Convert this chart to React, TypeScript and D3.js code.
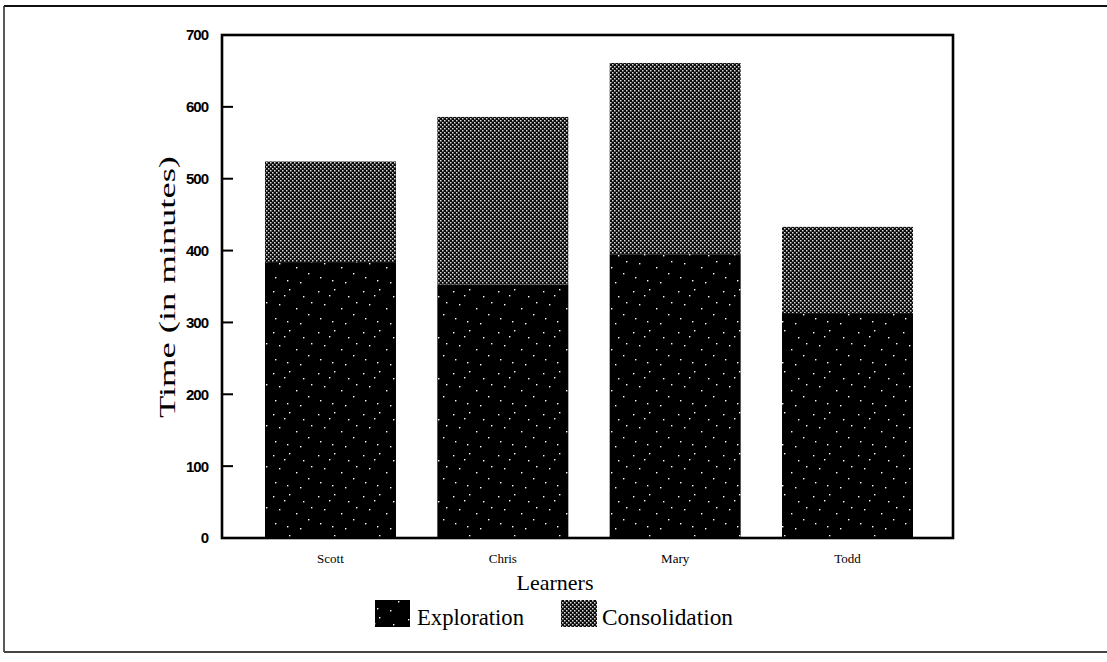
import React from "react";
import * as d3 from "d3";

const learners = ["Scott", "Chris", "Mary", "Todd"];
const exploration = [384, 353, 395, 313];
const consolidation = [140, 233, 266, 120];
const yTicks = [0, 100, 200, 300, 400, 500, 600, 700];
const seriesNames = ["Exploration", "Consolidation"];

const W = 1107;
const H = 662;
const frame = { left: 222, right: 953, top: 35, bottom: 538 };

export default function App() {
  const y = d3.scaleLinear().domain([0, 700]).range([frame.bottom, frame.top]);
  const x = d3
    .scaleBand<string>()
    .domain(learners)
    .range([265, 913])
    .paddingInner(0.24)
    .paddingOuter(0);

  const rows = learners.map((name, i) => ({
    name,
    Exploration: exploration[i],
    Consolidation: consolidation[i],
  }));
  const stack = d3.stack<any>().keys(seriesNames)(rows);
  const fills = ["url(#explor)", "url(#consol)"];

  // speckle positions within a pattern tile (texture only)
  const speckles = [
    [3, 4], [19, 2], [33, 9], [9, 17], [26, 21], [38, 27], [5, 31], [17, 34], [30, 36], [14, 8], [41, 15],
  ];

  const serif = "'Liberation Serif', 'Times New Roman', serif";
  const sans = "'Liberation Sans', Arial, sans-serif";

  return (
    <div style={{ position: "fixed", left: 0, top: 0 }}>
      <svg width={W} height={H} style={{ display: "block", background: "#fff" }}>
        <defs>
          <pattern id="explor" width={45} height={41} patternUnits="userSpaceOnUse">
            <rect width={45} height={41} fill="#000" />
            {speckles.map(([px, py], i) => (
              <rect key={i} x={px} y={py} width={1.4} height={1.4} fill="#fff" />
            ))}
          </pattern>
          <pattern id="consol" width={4} height={4} patternUnits="userSpaceOnUse">
            <rect width={4} height={4} fill="#0a0a0a" />
            <rect x={0} y={0} width={1.5} height={1.5} fill="#dcdcdc" />
            <rect x={2} y={2} width={1.5} height={1.5} fill="#dcdcdc" />
          </pattern>
        </defs>

        {/* outer border */}
        <line x1={4} y1={6} x2={W} y2={6} stroke="#111" strokeWidth={2.2} />
        <line x1={4} y1={6} x2={4} y2={652} stroke="#222" strokeWidth={1.5} />
        <line x1={4} y1={652} x2={W} y2={652} stroke="#444" strokeWidth={1.8} />

        {/* bars */}
        {stack.map((layer, si) =>
          layer.map((d, i) => (
            <rect
              key={`${si}-${i}`}
              x={x(learners[i])}
              y={y(d[1])}
              width={x.bandwidth()}
              height={y(d[0]) - y(d[1])}
              fill={fills[si]}
            />
          ))
        )}

        {/* frame */}
        <rect
          x={frame.left}
          y={frame.top}
          width={frame.right - frame.left}
          height={frame.bottom - frame.top}
          fill="none"
          stroke="#000"
          strokeWidth={2.6}
        />

        {/* y ticks */}
        {yTicks.map((t) => (
          <g key={t}>
            {t !== 0 && t !== 700 && (
              <line x1={frame.left} x2={frame.left + 11} y1={y(t)} y2={y(t)} stroke="#000" strokeWidth={2} />
            )}
            <text
              x={208}
              y={y(t)}
              dy="0.36em"
              textAnchor="end"
              fontFamily={sans}
              fontSize={15}
              fontWeight={600}
              letterSpacing={-1}
              fill="#000"
            >
              {t}
            </text>
          </g>
        ))}

        {/* x category labels */}
        {learners.map((n) => (
          <text
            key={n}
            x={(x(n) as number) + x.bandwidth() / 2}
            y={563}
            textAnchor="middle"
            fontFamily={serif}
            fontSize={13}
            fill="#000"
          >
            {n}
          </text>
        ))}

        {/* axis titles */}
        <text x={555} y={590} textAnchor="middle" fontFamily={serif} fontSize={22} fill="#000">
          Learners
        </text>
        <text
          transform={`translate(175,287) rotate(-90)`}
          textAnchor="middle"
          fontFamily={serif}
          fontSize={23}
          textLength={262}
          lengthAdjust="spacingAndGlyphs"
          fill="#000"
        >
          Time (in minutes)
        </text>

        {/* legend */}
        <rect x={375} y={600} width={35} height={27} fill="url(#explor)" />
        <text x={417} y={625} fontFamily={serif} fontSize={23} textLength={107} lengthAdjust="spacingAndGlyphs" fill="#000">
          {seriesNames[0]}
        </text>
        <rect x={561} y={600} width={36} height={27} fill="url(#consol)" />
        <text x={602} y={625} fontFamily={serif} fontSize={23} textLength={131} lengthAdjust="spacingAndGlyphs" fill="#000">
          {seriesNames[1]}
        </text>
      </svg>
    </div>
  );
}
